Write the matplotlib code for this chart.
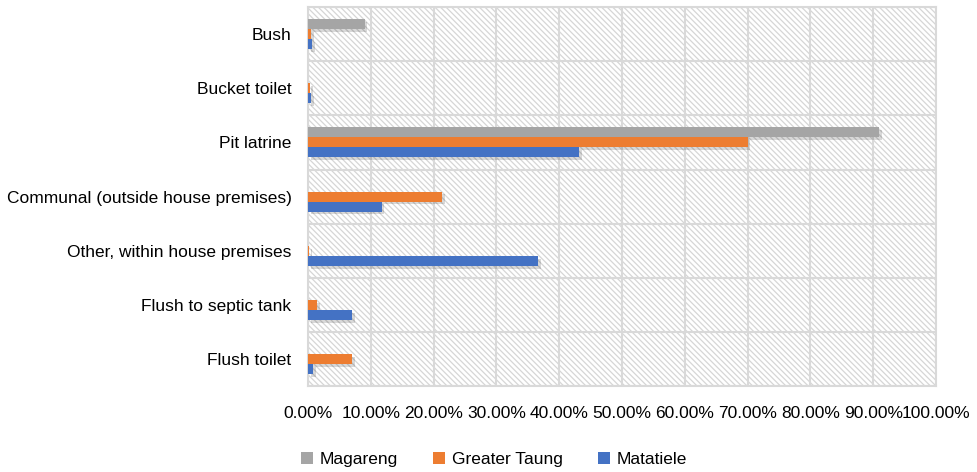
import numpy as np
import matplotlib.pyplot as plt
import matplotlib.patheffects as pe
from matplotlib.patches import Rectangle, Patch
from matplotlib.ticker import FuncFormatter

plt.rcParams['font.family'] = ['Liberation Sans Narrow', 'Liberation Sans', 'DejaVu Sans']
plt.rcParams['hatch.linewidth'] = 0.9
plt.rcParams['hatch.color'] = '#d6d6d6'

categories = ['Flush toilet', 'Flush to septic tank', 'Other, within house premises',
              'Communal (outside house premises)', 'Pit latrine', 'Bucket toilet', 'Bush']
magareng = [0.0, 0.0, 0.0, 0.0, 91.0, 0.0, 9.0]
greater_taung = [7.0, 1.5, 0.2, 21.3, 70.0, 0.3, 0.5]
matatiele = [0.8, 7.0, 36.6, 11.7, 43.2, 0.5, 0.7]

series = [('Magareng', magareng, '#A5A5A5'),
          ('Greater Taung', greater_taung, '#ED7D31'),
          ('Matatiele', matatiele, '#4472C4')]

fig = plt.figure(figsize=(9.78, 4.72), dpi=100)
ax = fig.add_axes([0.315, 0.182, 0.642, 0.803])

# hatched background
ax.add_patch(Rectangle((0, 0), 1, 1, transform=ax.transAxes, facecolor='white',
                       hatch='\\' * 6, edgecolor='#d6d6d6', linewidth=0, zorder=0))

y = np.arange(len(categories))
h = 0.185
shadow = [pe.SimplePatchShadow(offset=(2, -2), shadow_rgbFace='#000000', alpha=0.15), pe.Normal()]
for i, (name, vals, col) in enumerate(series):
    ax.barh(y + (1 - i) * h, vals, height=h, color=col, zorder=3, path_effects=shadow)

ax.set_xlim(0, 100)
ax.set_ylim(-0.5, len(categories) - 0.5)
ax.set_xticks(np.arange(0, 101, 10))
ax.xaxis.set_major_formatter(FuncFormatter(lambda v, p: f'{v:.2f}%'))
ax.set_yticks(y)
ax.set_yticklabels(categories)
ax.set_yticks(np.arange(-0.5, len(categories), 1), minor=True)
ax.tick_params(axis='both', which='both', length=0, labelsize=12.5, colors='#000000')
ax.tick_params(axis='x', pad=14)
ax.tick_params(axis='y', pad=12)
ax.grid(axis='x', which='major', color='#d9d9d9', linewidth=1.5, zorder=1)
ax.grid(axis='y', which='minor', color='#d9d9d9', linewidth=1.5, zorder=1)
for s in ax.spines.values():
    s.set_color('#d9d9d9')
    s.set_linewidth(1.5)

handles = [Patch(facecolor=col, label=name) for name, vals, col in series]
fig.legend(handles=handles, loc='lower center', bbox_to_anchor=(0.505, -0.022), ncol=3,
           frameon=False, fontsize=12.5, handlelength=0.7, handleheight=0.7,
           columnspacing=2.0, handletextpad=0.4)

fig.savefig('out.png', dpi=100)
